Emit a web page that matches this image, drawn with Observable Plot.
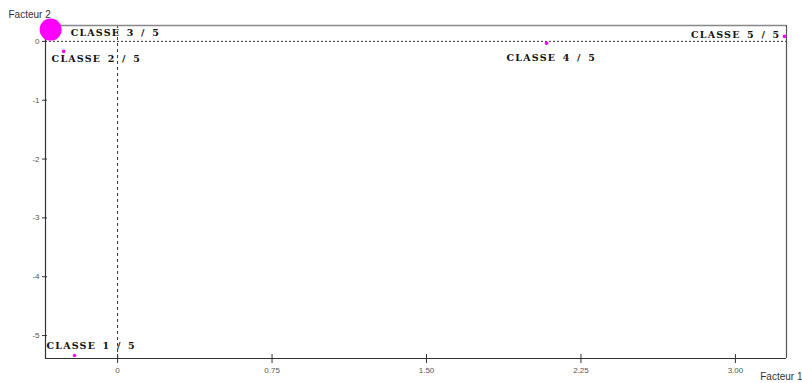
<!DOCTYPE html>
<html><head><meta charset="utf-8">
<script src="https://cdn.jsdelivr.net/npm/d3@7"></script>
<script src="https://cdn.jsdelivr.net/npm/@observablehq/plot@0.6"></script>
<style>
body{margin:0;background:#fff;}
#chart{width:802px;height:383px;}
</style></head><body><div id="chart"></div>
<script>
const classes = ["CLASSE 1 / 5","CLASSE 2 / 5","CLASSE 3 / 5","CLASSE 4 / 5","CLASSE 5 / 5"];
const facteur1 = [-0.209, -0.262, -0.325, 2.083, 3.238];
const facteur2 = [-5.34, -0.17, 0.20, -0.03, 0.085];
const poids = [1, 1, 30, 1, 1];
const xTicks = [0, 0.75, 1.5, 2.25, 3.0];
const yTicks = [0, -1, -2, -3, -4, -5];
const xDomain = [-0.35, 3.248];
const yDomain = [-5.39, 0.27];

// label placement (style only)
const labelStyle = [
  {dx:-28, dy:-10, anchor:"start"},
  {dx:-12, dy:8, anchor:"start"},
  {dx:20, dy:3, anchor:"start"},
  {dx:-40, dy:15, anchor:"start"},
  {dx:-4, dy:-1, anchor:"end"}
];

const data = classes.map((c,i)=>({c, x:facteur1[i], y:facteur2[i], w:poids[i], i}));
const fontLbl = {fontFamily:"DejaVu Serif", fontWeight:"bold", fontSize:9.5};

const plot = Plot.plot({
  width:802, height:383,
  marginLeft:45, marginRight:16, marginTop:25, marginBottom:25,
  style:{fontFamily:"Liberation Sans", fontSize:"8px", color:"#444", background:"#fff", overflow:"visible"},
  x:{domain:xDomain, label:null},
  y:{domain:yDomain, label:null},
  r:{type:"identity"},
  marks:[
    Plot.ruleY([0], {stroke:"#333", strokeDasharray:"2,2", strokeWidth:1}),
    Plot.ruleX([0], {stroke:"#333", strokeDasharray:"3,3", strokeWidth:1}),
    Plot.ruleY([yDomain[1]], {stroke:"#888", strokeWidth:1.5}),
    Plot.ruleX([xDomain[1]], {stroke:"#555", strokeWidth:1.2}),
    Plot.ruleX([xDomain[0]], {stroke:"#333", strokeWidth:1.2}),
    Plot.ruleY([yDomain[0]], {stroke:"#333", strokeWidth:1.2}),
    Plot.axisX(xTicks, {tickSize:5, tickPadding:4, stroke:"#333", fill:"#555",
      tickFormat:d => d === 0 ? "0" : d.toFixed(2)}),
    Plot.axisX(xTicks, {tickSize:-4, text:null, stroke:"#333"}),
    Plot.axisY(yTicks, {tickSize:3, tickPadding:3, stroke:"#333", fill:"#555", tickFormat:d=>String(d)}),
    Plot.axisY(yTicks, {tickSize:-2, text:null, stroke:"#333"}),
    Plot.dot(data, {x:"x", y:"y", r:d => d.w === 1 ? 1.8 : 11, fill:"#ff00ff", stroke:null}),
    ...data.map(d => Plot.text([d], {x:"x", y:"y", text:"c", dx:labelStyle[d.i].dx, dy:labelStyle[d.i].dy,
      textAnchor:labelStyle[d.i].anchor, fill:"#111", ...fontLbl})),
    Plot.text(["Facteur 2"], {frameAnchor:"top-left", dx:-37, dy:-15, textAnchor:"start", fontSize:10, fill:"#333", fontFamily:"Liberation Sans"}),
    Plot.text(["Facteur 1"], {frameAnchor:"bottom-right", dx:16, dy:21, textAnchor:"end", fontSize:10, fill:"#333", fontFamily:"Liberation Sans"})
  ]
});
d3.select(plot).selectAll("text").filter(function(){ return this.textContent.startsWith("CLASSE"); })
  .style("letter-spacing","1.2px").style("word-spacing","2px");
document.getElementById("chart").appendChild(plot);
</script></body></html>
